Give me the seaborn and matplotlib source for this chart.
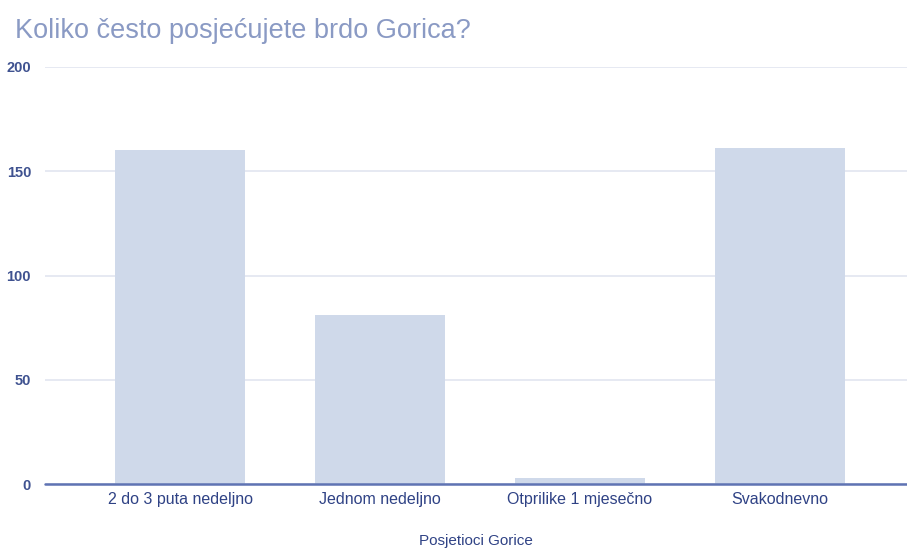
import matplotlib
matplotlib.use("Agg")
import matplotlib.pyplot as plt
import seaborn as sns
import pandas as pd

categories = ["2 do 3 puta nedeljno", "Jednom nedeljno", "Otprilike 1 mjesečno", "Svakodnevno"]
counts = [160, 81, 3, 161]
yticks = [0, 50, 100, 150, 200]

df = pd.DataFrame({"Posjetioci Gorice": categories, "Broj": counts})

sns.set_theme(style="white")
plt.rcParams["font.family"] = ["Liberation Sans", "DejaVu Sans"]

fig = plt.figure(figsize=(9.07, 5.48), dpi=100)
ax = fig.add_axes([45 / 907, 1 - 484 / 548, 1 - 45 / 907, (484 - 67) / 548])

sns.barplot(data=df, x="Posjetioci Gorice", y="Broj", color="#cfd9ea",
            saturation=1, width=0.65, ax=ax, zorder=2, edgecolor="none", linewidth=0)

ax.set_ylim(0, 200)
ax.set_xlim(-0.675, 3.635)
ax.set_yticks(yticks)
ax.yaxis.grid(True, color="#e2e5f0", linewidth=1.2, zorder=0)
ax.set_axisbelow(True)
ax.axhline(0, color="#5f73b3", linewidth=1.8, zorder=4, clip_on=False)
for s in ax.spines.values():
    s.set_visible(False)

ax.tick_params(axis="y", length=0, pad=10, labelsize=10.5, labelcolor="#3f5290")
ax.tick_params(axis="x", length=0, pad=6, labelsize=11.5, labelcolor="#2f4285")
for lbl in ax.get_yticklabels():
    lbl.set_fontweight("bold")

ax.set_ylabel("")
ax.set_xlabel("Posjetioci Gorice", fontsize=11, color="#2f4285", labelpad=19)

fig.text(15 / 907, 1 - 31 / 548, "Koliko često posjećujete brdo Gorica?",
         fontsize=19.5, color="#8a9ac4", va="center", ha="left")

fig.savefig("out.png", dpi=100)
